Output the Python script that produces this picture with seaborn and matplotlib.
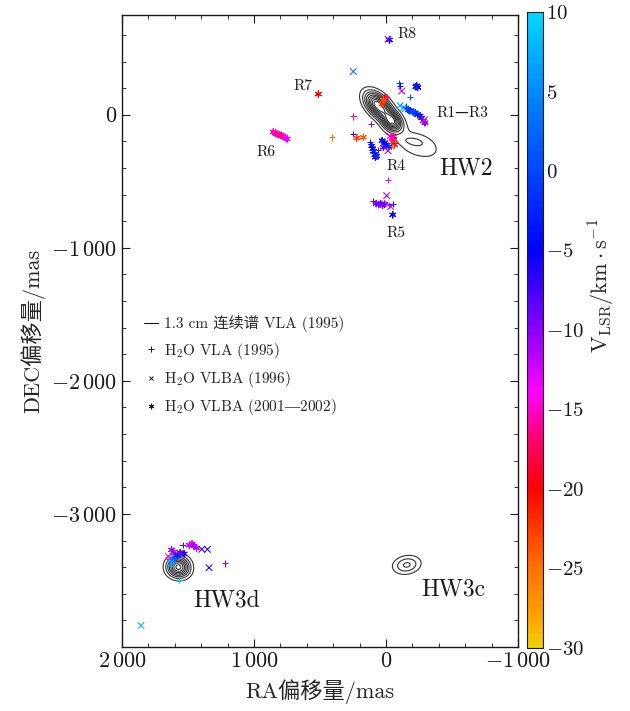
import numpy as np
import pandas as pd
import matplotlib
matplotlib.use("Agg")
import matplotlib.pyplot as plt
import seaborn as sns
from matplotlib.colors import LinearSegmentedColormap, Normalize
from matplotlib.cm import ScalarMappable
from matplotlib.lines import Line2D
from matplotlib.ticker import MultipleLocator, FixedLocator, FuncFormatter

# ---------------- data ----------------
maser_ra = [-25, -15, 248, 513, -100, -106, -119, -232, -240, -226, -182, 8, -5, 20, 30,
            -106, -130, -144, -170, -182, -205, -220, -240, -258, -270, -283, -295, -290, -150,
            248, 114, 411, 248, 222, 172,
            -55, -60, -50, -65, -40, -45, -30, 30, 10, 0, -20, 20, -15, 121, 108, 100, 95, 85, 80, 70, 60,
            -13, -5,
            100, 75, 55, 40, 25, 10, -20, -50, -51, -35,
            855, 840, 825, 810, 795, 780, 765, 750,
            1624, 1610, 1541, 1490, 1470, 1455, 1435, 1396, 1353, 1341, 1220, 1649, 1640, 1620, 1600,
            1580, 1560, 1530, 1630, 1566, 1856]
maser_dec = [563, 568, 325, 155, 235, 218, 178, 218, 205, 210, 135, 125, 135, 110, 80,
             68, 55, 45, 35, 30, 20, 15, 0, -8, -25, -45, -60, -38, 60,
             -13, -70, -170, -145, -175, -170,
             -165, -185, -205, -225, -240, -175, -160, -195, -210, -225, -240, -245, -270, -208, -235, -255,
             -275, -300, -320, -310, -265,
             -490, -608,
             -650, -668, -675, -670, -680, -672, -680, -670, -752, -690,
             -130, -138, -145, -150, -155, -162, -172, -182,
             -3271, -3285, -3233, -3235, -3225, -3240, -3255, -3266, -3266, -3404, -3371, -3321, -3340,
             -3350, -3330, -3310, -3290, -3300, -3380, -3496, -3838]
maser_vel = [-7, -9, 4, -20, 0, -6, -12, -4, -5, -3, 1, -20, -17, -24, -22,
             7, 8, 6, 0, -2, 1, -1, -3, -2, -6, -9, -10, -13, -1,
             -15, -10, -25, -7, -23, -24,
             -21, -19, -23, -20, -25, -15, -13, -4, -3, -5, -2, -8, -10, -6, -4, -5, -3, -4, -6, -2, -8,
             -14, -11,
             -7, -9, -10, -8, -11, -9, -13, -4, -5, -12,
             -15, -15, -16, -14, -19, -15, -14, -13,
             -10, -11, -8, -12, -13, -11, -12, -7, -6, -7, -10, -14, -13, 5, 2, -3, -9, -6, 7, 8, 8]
maser_kind = (["VLBA01", "VLBA96", "VLBA96", "VLBA01", "VLA95", "VLA95", "VLBA96", "VLBA01", "VLBA01",
               "VLBA01", "VLA95", "VLBA01", "VLA95", "VLBA01", "VLBA01",
               "VLBA96", "VLBA96", "VLBA96", "VLBA01", "VLBA01", "VLBA01", "VLBA01", "VLBA01", "VLBA01",
               "VLBA01", "VLBA01", "VLBA01", "VLBA96", "VLA95",
               "VLA95", "VLA95", "VLA95", "VLA95", "VLBA01", "VLBA01",
               "VLBA01", "VLBA01", "VLBA01", "VLBA01", "VLBA01", "VLBA01", "VLBA96", "VLBA01", "VLBA01",
               "VLBA01", "VLBA01", "VLBA01", "VLBA96", "VLA95", "VLBA01", "VLBA01", "VLBA01", "VLBA01",
               "VLBA01", "VLBA01", "VLA95",
               "VLA95", "VLBA96",
               "VLA95", "VLBA01", "VLBA01", "VLBA01", "VLBA01", "VLBA01", "VLA95", "VLA95", "VLBA01", "VLBA96",
               "VLBA01", "VLBA01", "VLBA01", "VLBA01", "VLBA01", "VLBA01", "VLBA01", "VLBA01",
               "VLBA01", "VLBA01", "VLA95", "VLBA01", "VLBA01", "VLBA01", "VLBA01", "VLBA96", "VLBA96",
               "VLBA96", "VLA95", "VLBA96", "VLA95", "VLBA01", "VLBA01", "VLBA01", "VLBA01", "VLBA01",
               "VLBA96", "VLA95", "VLBA96"])

# 1.3 cm continuum: gaussian components (ra, dec, peak, sigma_major, sigma_minor, pa_deg)
cont_ra = [60, -45, -240, -205, 1574, 1545, -157]
cont_dec = [70, -50, -225, -200, -3398, -3425, -3383]
cont_amp = [1.0, 0.85, 0.16, 0.10, 0.8, 0.06, 0.32]
cont_smaj = [80, 55, 150, 60, 56, 60, 72]
cont_smin = [47, 42, 80, 22, 51, 40, 46]
cont_pa = [45, 45, 20, 10, 0, 30, -10]
cont_levels = [0.1, 0.2, 0.3, 0.4, 0.5, 0.6, 0.7, 0.8, 0.9]

vel_nodes = [-30, -28, -25, -20, -16.5, -14, -10, -5, 0, 5, 10]
vel_colors = ["#f0d000", "#ffa000", "#ff7000", "#ff0000", "#ff0080", "#ff00ff",
              "#8a00ff", "#0000ff", "#0045ff", "#0088ff", "#00d8ff"]

kind_labels = ["1.3 cm 连续谱 VLA (1995)", "H$_2$O VLA (1995)", "H$_2$O VLBA (1996)",
               "H$_2$O VLBA (2001$—$2002)"]

# ---------------- style ----------------
sns.set_theme(style="ticks")
plt.rcParams["font.family"] = ["cmr10", "Noto Sans CJK SC", "DejaVu Serif"]
plt.rcParams["mathtext.fontset"] = "cm"
plt.rcParams["axes.unicode_minus"] = True
plt.rcParams["axes.formatter.use_mathtext"] = True

vmin, vmax = -30, 10
cmap = LinearSegmentedColormap.from_list(
    "vlsr", [((v - vmin) / (vmax - vmin), c) for v, c in zip(vel_nodes, vel_colors)])
norm = Normalize(vmin=vmin, vmax=vmax)

fig = plt.figure(figsize=(6.3, 7.11), dpi=100)
ax = fig.add_axes([0.1937, 0.090, 0.6286, 0.889])
cax = fig.add_axes([0.8365, 0.089, 0.0254, 0.894])

# continuum contours
gx = np.arange(-1000, 2001, 5.0)
gy = np.arange(-4000, 751, 5.0)
X, Y = np.meshgrid(gx, gy)
Z = np.zeros_like(X)
for cx, cy, a, s1, s2, pa in zip(cont_ra, cont_dec, cont_amp, cont_smaj, cont_smin, cont_pa):
    t = np.deg2rad(pa)
    dx, dy = X - cx, Y - cy
    u = dx * np.cos(t) + dy * np.sin(t)
    v = -dx * np.sin(t) + dy * np.cos(t)
    Z += a * np.exp(-u ** 2 / (2 * s1 ** 2) - v ** 2 / (2 * s2 ** 2))
ax.contour(X, Y, Z, levels=cont_levels, colors="#333333", linewidths=0.8)

# masers
df = pd.DataFrame({"ra": maser_ra, "dec": maser_dec, "vel": maser_vel, "kind": maser_kind})
sns.scatterplot(data=df, x="ra", y="dec", hue="vel", style="kind",
                markers={"VLA95": "+", "VLBA96": "x", "VLBA01": (6, 2, 0)},
                palette=cmap, hue_norm=norm, s=22, linewidth=0.75, edgecolor=None,
                legend=False, ax=ax, zorder=3)

ax.set_xlim(2000, -1000)
ax.set_ylim(-4000, 750)


def thou(v, pos=None):
    v = int(round(v))
    if v == 0:
        return "$0$"
    s = f"{abs(v):,}".replace(",", r"\,")
    return f"$-{s}$" if v < 0 else f"${s}$"


ax.xaxis.set_major_locator(MultipleLocator(1000))
ax.xaxis.set_minor_locator(MultipleLocator(200))
ax.yaxis.set_major_locator(FixedLocator([0, -1000, -2000, -3000]))
ax.yaxis.set_minor_locator(MultipleLocator(200))
ax.xaxis.set_major_formatter(FuncFormatter(thou))
ax.yaxis.set_major_formatter(FuncFormatter(thou))
ax.tick_params(which="both", direction="in", top=True, right=True, colors="k", labelsize=16)
ax.tick_params(which="major", length=6, width=0.8)
ax.tick_params(which="minor", length=3, width=0.6)
for sp in ax.spines.values():
    sp.set_color("k")
    sp.set_linewidth(1.0)
ax.set_xlabel("RA偏移量/mas", fontsize=16, labelpad=6)
ax.set_ylabel("DEC偏移量/mas", fontsize=16, labelpad=4)

# annotations
ann = [("R8", -159, 608, 11), ("R7", 629, 218, 11), ("R1—R3", -576, 15, 11),
       ("R6", 909, -278, 11), ("R4", -76, -383, 11), ("R5", -76, -893, 11),
       ("HW2", -606, -405, 17), ("HW3d", 1205, -3653, 17), ("HW3c", -508, -3571, 17)]
for t, x, y, fs in ann:
    ax.text(x, y, t, fontsize=fs, ha="center", va="center", color="k")

# legend
handles = [Line2D([], [], color="k", lw=0.8),
           Line2D([], [], color="k", marker="+", ls="", ms=4, mew=0.7),
           Line2D([], [], color="k", marker="x", ls="", ms=3, mew=0.7),
           Line2D([], [], color="k", marker=(6, 2, 0), ls="", ms=4, mew=0.7)]
ax.legend(handles, kind_labels, loc="upper left", bbox_to_anchor=(0.055, 0.525),
          frameon=False, fontsize=11, handlelength=0.9, handletextpad=0.45,
          labelspacing=0.55, borderaxespad=0, borderpad=0)

# colorbar
cb = fig.colorbar(ScalarMappable(norm=norm, cmap=cmap), cax=cax)
cb.set_ticks([10, 5, 0, -5, -10, -15, -20, -25, -30])
cb.ax.yaxis.set_major_formatter(FuncFormatter(lambda v, p: f"${int(round(v))}$"))
cb.ax.yaxis.set_minor_locator(MultipleLocator(1))
cb.ax.tick_params(which="both", direction="in", left=True, right=True, labelsize=15,
                  colors="k", pad=2)
cb.ax.tick_params(which="major", length=5, width=0.7)
cb.ax.tick_params(which="minor", length=2.5, width=0.5)
cb.outline.set_edgecolor("k")
cb.outline.set_linewidth(0.8)
cb.set_label(r"$\mathrm{V}_{\mathrm{LSR}}/\mathrm{km\cdot s}^{-1}$", fontsize=16, labelpad=10)
cb.ax.yaxis.set_label_coords(3.75, 0.57)

fig.savefig("out.png", dpi=100)
